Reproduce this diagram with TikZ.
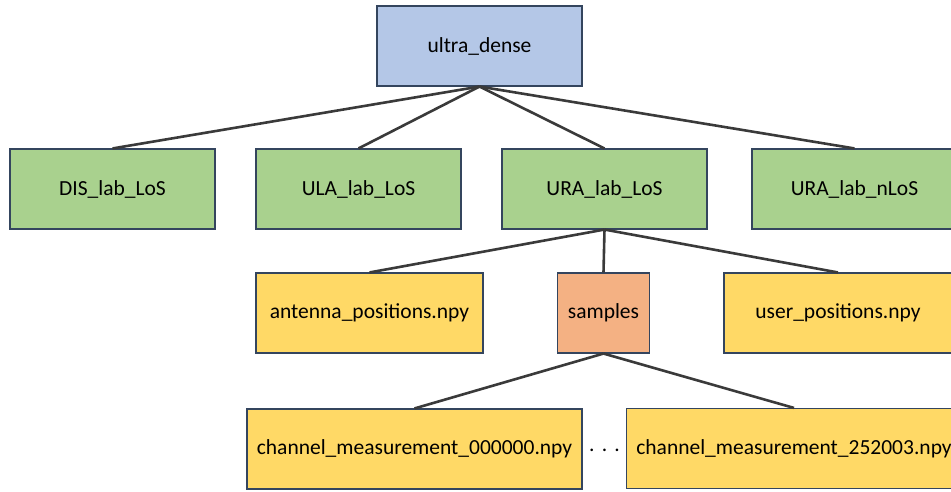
\documentclass[tikz,border=0pt]{standalone}
\usepackage{fontspec}
\setmainfont{Carlito}
\definecolor{topfill}{HTML}{B4C7E7}
\definecolor{dirfill}{HTML}{A9D18E}
\definecolor{filefill}{HTML}{FFD966}
\definecolor{sampfill}{HTML}{F4B183}
\definecolor{boxline}{HTML}{34455E}
\definecolor{edgeline}{HTML}{3A3A3A}
\tikzset{
  box/.style={draw=boxline, line width=1.1pt, minimum height=80pt, inner sep=0pt,
    font=\fontsize{21.5}{25}\selectfont, text=black},
  topbox/.style={box, fill=topfill, minimum width=205pt},
  dirbox/.style={box, fill=dirfill, minimum width=205pt},
  filebox/.style={box, fill=filefill},
  sampbox/.style={box, fill=sampfill, minimum width=92pt},
  edge/.style={draw=edgeline, line width=2.6pt}
}
\begin{document}
\begin{tikzpicture}[x=1pt, y=-1pt]
  \useasboundingbox (0,0) rectangle (951,491);
  \clip (0,0) rectangle (951,491);
  % directory tree
  \node[topbox] (root) at (479.5,46) {\raisebox{-1pt}{ultra\_dense}};
  \node[dirbox] (dis) at (112.5,189) {\raisebox{-1pt}{DIS\_lab\_LoS}};
  \node[dirbox] (ula) at (358.5,189) {\raisebox{-1pt}{ULA\_lab\_LoS}};
  \node[dirbox] (ura) at (604.5,189) {\raisebox{-1pt}{URA\_lab\_LoS}};
  \node[dirbox] (uran) at (854.5,189) {\raisebox{-1pt}{URA\_lab\_nLoS}};
  \node[filebox, minimum width=227pt] (ant) at (369.5,313) {\raisebox{-1pt}{antenna\_positions.npy}};
  \node[sampbox] (samp) at (603.5,313) {\raisebox{-1pt}{samples}};
  \node[filebox, minimum width=228pt] (user) at (838,313) {\raisebox{-1pt}{user\_positions.npy}};
  \node[filebox, minimum width=335pt] (ch0) at (414.5,449) {\raisebox{-1pt}{channel\_measurement\_000000.npy}};
  \node[filebox, minimum width=335pt] (ch1) at (794,448.5) {\raisebox{-1pt}{channel\_measurement\_252003.npy}};
  \node[font=\fontsize{21.5}{25}\selectfont] (dots) at (604.5,450) {.\,\,.\,\,.};
  % connectors
  \foreach \c in {dis, ula, ura, uran}
    \draw[edge] (root.south) -- (\c.north);
  \foreach \c in {ant, samp, user}
    \draw[edge] (ura.south) -- (\c.north);
  \foreach \c in {ch0, ch1}
    \draw[edge] (samp.south) -- (\c.north);
\end{tikzpicture}
\end{document}
